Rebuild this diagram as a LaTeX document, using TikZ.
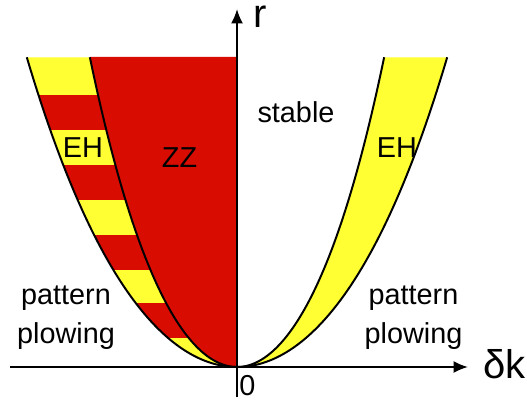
\documentclass[tikz,border=0pt]{standalone}
\usepackage{fontspec}
\setmainfont{Liberation Sans}
\usetikzlibrary{arrows.meta}
\definecolor{zzred}{RGB}{216,12,0}
\definecolor{ehyellow}{RGB}{255,255,51}

\begin{document}
\begin{tikzpicture}[x=1cm,y=1cm,
    declare function={thr(\k)=0.24*\k*\k+0.001472*\k*\k*\k*\k;},
    border/.style={line width=1.4pt},
    axis/.style={line width=1.4pt,-{Latex[length=0.36cm,width=0.3cm]}},
    lbl/.style={font=\fontsize{20.5}{27.7}\selectfont,inner sep=0pt},
    biglbl/.style={font=\fontsize{28.5}{32}\selectfont,inner sep=0pt}]
  \useasboundingbox (-5.925,-0.875) rectangle (7.25,9.175);

  % Ліва смуга EH з червоними прошарками.
  \fill[ehyellow] plot[domain=5.255:0,samples=60] (-\x,{thr(\x)})
    -- plot[domain=0:5.255,samples=60] (-0.7*\x,{thr(\x)}) -- cycle;
  \begin{scope}
    \clip plot[domain=5.255:0,samples=60] (-\x,{thr(\x)})
      -- plot[domain=0:5.255,samples=60] (-0.7*\x,{thr(\x)}) -- cycle;
    \foreach \lo/\hi in {0.725/1.6,2.425/3.3,4.175/5.05,5.925/6.8}{
      \fill[zzred] (-6,\lo) rectangle (0,\hi);
    }
  \end{scope}

  % Область ZZ.
  \fill[zzred] (0,7.75) -- (-3.6785,7.75)
    -- plot[domain=5.255:0,samples=60] (-0.7*\x,{thr(\x)}) -- cycle;

  % Права смуга EH.
  \fill[ehyellow] plot[domain=0:5.255,samples=60] (0.7*\x,{thr(\x)})
    -- plot[domain=5.255:0,samples=60] (\x,{thr(\x)}) -- cycle;

  \foreach \s in {-1,-0.7,0.7,1}{
    \draw[border] plot[domain=0:5.255,samples=60] (\s*\x,{thr(\x)});
  }

  % Осі.
  \coordinate (kmin) at (-5.675,0);
  \coordinate (kmax) at (5.775,0);
  \coordinate (rmin) at (0,-0.75);
  \coordinate (rmax) at (0,8.95);
  \draw[axis] (kmin) -- (kmax);
  \draw[axis] (rmin) -- (rmax);

  \node[biglbl] (rlabel) at (0.58,8.76) {r};
  \node[biglbl,anchor=base west] (dklabel) at (6.15,-0.275) {δk};
  \node[lbl,anchor=base west] (zero) at (0.05,-0.7) {0};
  \node[lbl,anchor=base] (stable) at (1.475,6.1) {stable};
  \node[lbl,anchor=base] (ehleft) at (-3.85,5.225) {EH};
  \node[lbl,anchor=base] (zz) at (-1.4375,4.975) {ZZ};
  \node[lbl,anchor=base] (ehright) at (4.0,5.225) {EH};
  \node[lbl,align=center] (plowleft) at (-4.275,1.2375) {pattern\\plowing};
  \node[lbl,align=center] (plowright) at (4.4125,1.2375) {pattern\\plowing};
\end{tikzpicture}
\end{document}
